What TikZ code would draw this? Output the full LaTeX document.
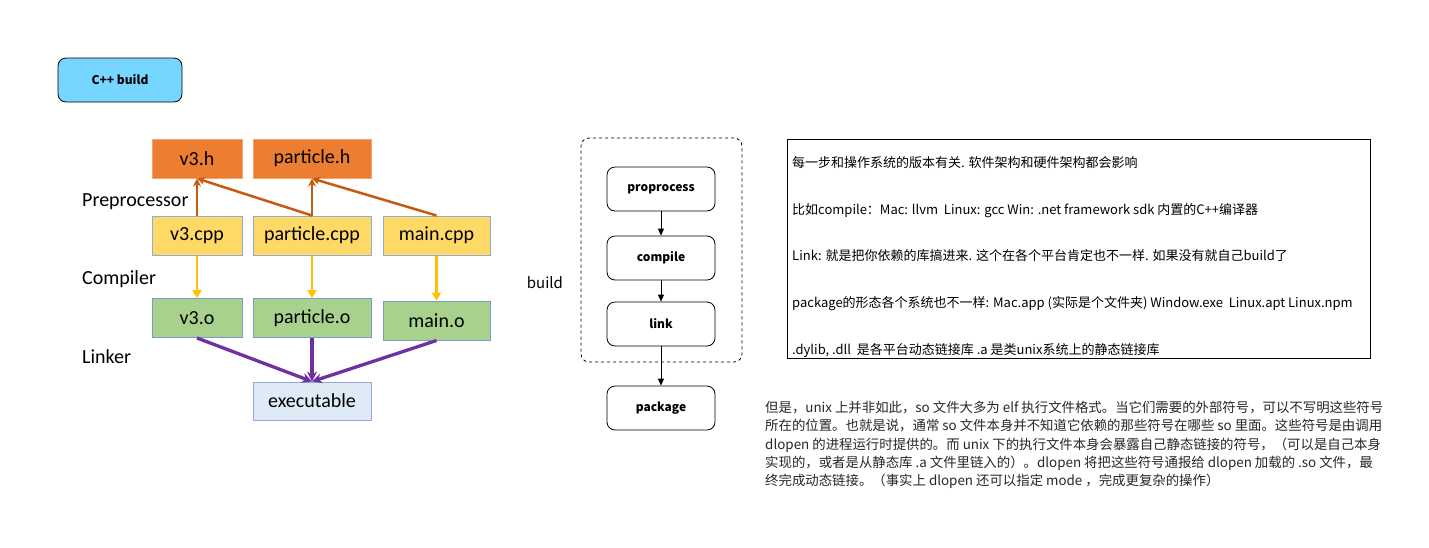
\documentclass[tikz,border=0pt]{standalone}
\usepackage{fontspec}
\setmainfont{Carlito}
\newfontfamily\cjk{Noto Sans CJK SC}
\usetikzlibrary{arrows.meta}
\definecolor{hfill}{HTML}{ED7D31}
\definecolor{hedge}{HTML}{F4A46E}
\definecolor{cppfill}{HTML}{FFD966}
\definecolor{fedge}{HTML}{8FAADC}
\definecolor{ofill}{HTML}{A9D18E}
\definecolor{oedge}{HTML}{7B9CC4}
\definecolor{exefill}{HTML}{DEEBF7}
\definecolor{prearrow}{HTML}{C55A11}
\definecolor{comparrow}{HTML}{FFC000}
\definecolor{linkarrow}{HTML}{7030A0}
\definecolor{titlefill}{HTML}{76D6FF}
\tikzset{
  filebox/.style={line width=1pt, minimum height=39pt, inner sep=0pt, font=\fontsize{20}{22}\selectfont},
  stagelabel/.style={anchor=west, inner sep=0pt, font=\fontsize{20}{22}\selectfont},
  phase/.style={draw, rounded corners=8pt, line width=0.8pt, minimum width=108pt, minimum height=44pt, inner sep=0pt, font=\cjk\bfseries\fontsize{12}{14}\selectfont},
  flow/.style={-{Triangle[length=7pt, width=6pt]}, line width=0.8pt},
}
\begin{document}
\begin{tikzpicture}[x=1pt, y=-1pt]
  \useasboundingbox (0,0) rectangle (1429,547);
  \node[draw, fill=titlefill, rounded corners=8pt, line width=0.8pt, minimum width=124pt, minimum height=44pt, font=\cjk\bfseries\fontsize{12}{14}\selectfont] (cbuild) at (120,80) {C++ build};

  \node[filebox, fill=hfill, draw=hedge, minimum width=90pt] (v3h) at (197,158.5) {v3.h};
  \node[filebox, fill=hfill, draw=hedge, minimum width=118pt] (particleh) at (312,158.5) {particle.h};
  \node[filebox, fill=cppfill, draw=fedge, minimum width=90pt] (v3cpp) at (197,235.5) {v3.cpp};
  \node[filebox, fill=cppfill, draw=fedge, minimum width=118pt] (particlecpp) at (312,235.5) {particle.cpp};
  \node[filebox, fill=cppfill, draw=fedge, minimum width=107pt] (maincpp) at (436.5,235.5) {main.cpp};
  \node[filebox, fill=ofill, draw=oedge, minimum width=90pt] (v3o) at (197,318) {v3.o};
  \node[filebox, fill=ofill, draw=oedge, minimum width=118pt] (particleo) at (312,318) {particle.o};
  \node[filebox, fill=ofill, draw=oedge, minimum width=107pt] (maino) at (436.5,320.5) {main.o};
  \node[filebox, fill=exefill, draw=fedge, minimum width=118pt, minimum height=38pt] (exe) at (312,401) {executable};

  \node[stagelabel] (prep) at (82,202) {Preprocessor};
  \node[stagelabel] (comp) at (82,279) {Compiler};
  \node[stagelabel] (linker) at (82,357) {Linker};

  \draw[prearrow, line width=2.5pt, -{Stealth[length=8pt, width=8pt]}] (v3cpp.north) -- (v3h.south);
  \draw[prearrow, line width=2.5pt, -{Stealth[length=8pt, width=8pt]}] (particlecpp.north) -- (v3h.south);
  \draw[prearrow, line width=2.5pt, -{Stealth[length=8pt, width=8pt]}] (particlecpp.north) -- (particleh.south);
  \draw[prearrow, line width=2.5pt, -{Stealth[length=8pt, width=8pt]}] (maincpp.north) -- (particleh.south);
  \draw[comparrow, line width=2.3pt, -{Triangle[length=8pt, width=9pt]}] (v3cpp.south) -- (v3o.north);
  \draw[comparrow, line width=2.3pt, -{Triangle[length=8pt, width=9pt]}] (particlecpp.south) -- (particleo.north);
  \draw[comparrow, line width=2.3pt, -{Triangle[length=8pt, width=9pt]}] (maincpp.south) -- (maino.north);
  \draw[linkarrow, line width=3.3pt, -{Stealth[length=10pt, width=10pt]}] (v3o.south) -- (exe.north);
  \draw[linkarrow, line width=3.3pt, -{Stealth[length=10pt, width=10pt]}] (particleo.south) -- (exe.north);
  \draw[linkarrow, line width=3.3pt, -{Stealth[length=10pt, width=10pt]}] (maino.south) -- (exe.north);

  \node[draw, dashed, rounded corners=8pt, line width=0.8pt, minimum width=161pt, minimum height=224pt] (buildbox) at (661.5,250) {};
  \node[font=\cjk\fontsize{15}{17}\selectfont] (build) at (545,283) {build};
  \node[phase] (proprocess) at (661,189) {proprocess};
  \node[phase] (compile) at (661,258) {compile};
  \node[phase] (link) at (661,324) {link};
  \node[phase] (package) at (661,408) {package};
  \draw[flow] (proprocess) -- (compile);
  \draw[flow] (compile) -- (link);
  \draw[flow] (link) -- (package);

  \node[draw, line width=0.8pt, minimum width=583pt, minimum height=219pt] (notes) at (1078.5,248.5) {};
  \node[anchor=north west, align=left, inner sep=0pt, font=\cjk\fontsize{13}{46.8}\selectfont] (notetext) at (792,156) {%
    每一步和操作系统的版本有关. 软件架构和硬件架构都会影响\\
    比如compile：Mac: llvm~ Linux: gcc Win: .net framework sdk 内置的C++编译器\\
    Link: 就是把你依赖的库搞进来. 这个在各个平台肯定也不一样. 如果没有就自己build了\\
    package的形态各个系统也不一样: Mac.app (实际是个文件夹) Window.exe~ Linux.apt Linux.npm\\
    .dylib, .dll~ 是各平台动态链接库 .a 是类unix系统上的静态链接库};

  \node[anchor=north west, align=left, inner sep=0pt, text=black!85, font=\cjk\fontsize{13.4}{18.3}\selectfont] (unixnote) at (765,401) {%
    但是，unix 上并非如此，so 文件大多为 elf 执行文件格式。当它们需要的外部符号，可以不写明这些符号\\
    所在的位置。也就是说，通常 so 文件本身并不知道它依赖的那些符号在哪些 so 里面。这些符号是由调用\\
    dlopen 的进程运行时提供的。而 unix 下的执行文件本身会暴露自己静态链接的符号，（可以是自己本身\\
    实现的，或者是从静态库 .a 文件里链入的）。dlopen 将把这些符号通报给 dlopen 加载的 .so 文件，最\\
    终完成动态链接。（事实上 dlopen 还可以指定 mode ，完成更复杂的操作）};
\end{tikzpicture}
\end{document}
